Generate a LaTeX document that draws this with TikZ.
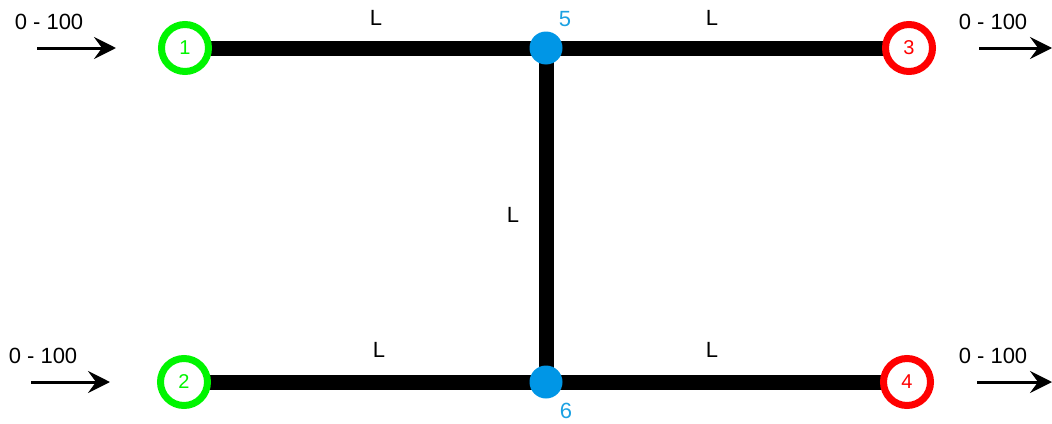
\documentclass[tikz,border=0pt]{standalone}
\usepackage{fontspec}
\setmainfont{Liberation Sans}
\usetikzlibrary{arrows.meta,backgrounds}
\definecolor{ngreen}{RGB}{0,245,0}
\definecolor{nred}{RGB}{255,0,0}
\definecolor{nblue}{RGB}{0,150,230}
\definecolor{lblue}{RGB}{27,161,226}
\tikzset{
  src/.style={circle,draw=ngreen,line width=7pt,fill=white,minimum size=47pt,inner sep=0pt,text=ngreen,font=\fontsize{20}{24}\selectfont},
  snk/.style={circle,draw=nred,line width=7pt,fill=white,minimum size=47pt,inner sep=0pt,text=nred,font=\fontsize{20}{24}\selectfont},
  junc/.style={circle,fill=nblue,minimum size=33pt,inner sep=0pt},
  pipe/.style={line width=15pt,black},
  lbl/.style={font=\fontsize{22}{26}\selectfont,inner sep=0pt},
  jlbl/.style={font=\fontsize{22}{26}\selectfont,inner sep=0pt,text=lblue},
  flow/.style={line width=3pt,-{Stealth[length=22pt,width=22pt,inset=8pt]}}
}
\begin{document}
\begin{tikzpicture}[x=1pt,y=-1pt]
\useasboundingbox (0,0) rectangle (1052,423);
\node[src] (n1) at (185,48) {1};
\node[src] (n2) at (184,382) {2};
\node[snk] (n3) at (909,48) {3};
\node[snk] (n4) at (907,382) {4};
\node[junc] (n5) at (546,48) {};
\node[junc] (n6) at (546,382) {};
\begin{scope}[on background layer]
\draw[pipe] (n1.center) -- (n5.center);
\draw[pipe] (n5.center) -- (n3.center);
\draw[pipe] (n5.center) -- (n6.center);
\draw[pipe] (n2.center) -- (n6.center);
\draw[pipe] (n6.center) -- (n4.center);
\end{scope}
\node[jlbl] (l5) at (565,19) {5};
\node[jlbl] (l6) at (566,411) {6};
\node[lbl] (la) at (376,18) {L};
\node[lbl] (lb) at (712,18) {L};
\node[lbl] (lc) at (513,215) {L};
\node[lbl] (ld) at (379,350) {L};
\node[lbl] (le) at (712,350) {L};
\node[lbl] (t1) at (49,22) {0 - 100};
\node[lbl] (t2) at (43,356) {0 - 100};
\node[lbl] (t3) at (993,22) {0 - 100};
\node[lbl] (t4) at (993,356) {0 - 100};
\coordinate (a1s) at (37,48); \coordinate (a1e) at (116,48);
\coordinate (a2s) at (31,382); \coordinate (a2e) at (110,382);
\coordinate (a3s) at (979,48); \coordinate (a3e) at (1052,48);
\coordinate (a4s) at (977,382); \coordinate (a4e) at (1052,382);
\draw[flow] (a1s) -- (a1e);
\draw[flow] (a2s) -- (a2e);
\draw[flow] (a3s) -- (a3e);
\draw[flow] (a4s) -- (a4e);
\end{tikzpicture}
\end{document}
